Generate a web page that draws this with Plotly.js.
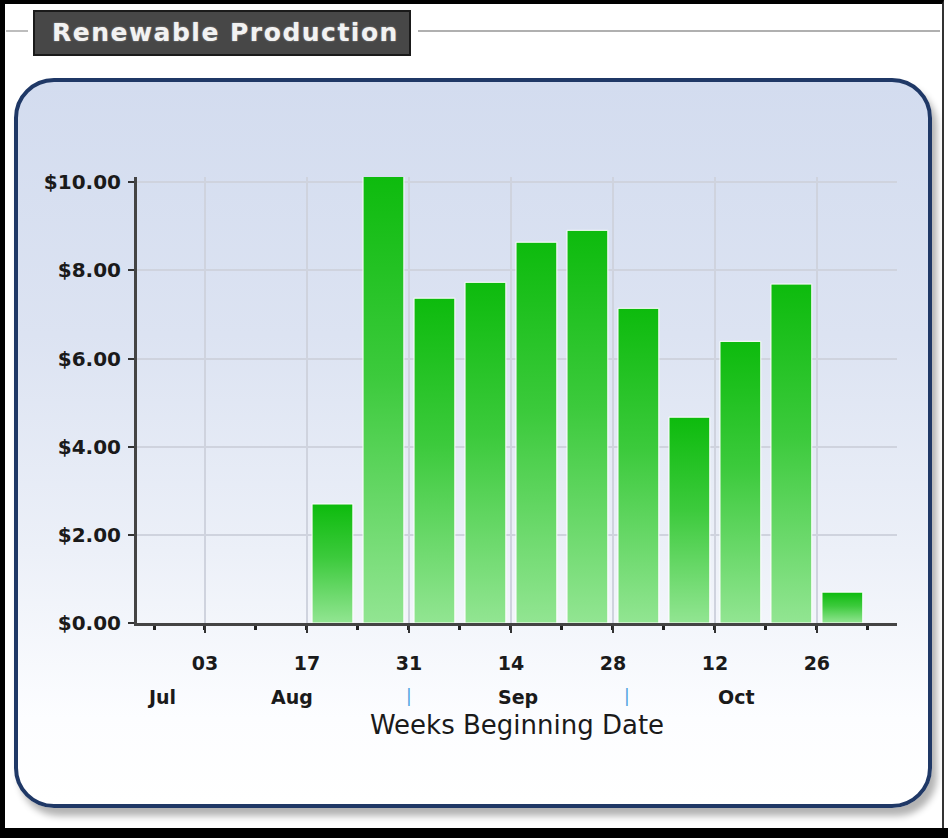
<!DOCTYPE html>
<html>
<head>
<meta charset="utf-8">
<script src="https://cdn.plot.ly/plotly-3.0.1.min.js"></script>
<style>
  html, body { margin: 0; padding: 0; }
  body { width: 948px; height: 838px; position: relative; overflow: hidden; background: #ffffff; }
  #frame { position: absolute; left: 0; top: 0; width: 944px; height: 838px; box-sizing: border-box;
           border-top: 4px solid #000; border-left: 5px solid #000; border-bottom: 10px solid #000; border-right: 2px solid #333; pointer-events: none; z-index: 5; }
  #frameR { position: absolute; left: 944px; top: 0; width: 4px; height: 838px; background: #fff; z-index: 5; }
  #frameB { position: absolute; left: 940px; top: 828px; width: 8px; height: 10px; background: #000; z-index: 6; }
  #titlebox { position: absolute; left: 33px; top: 10px; width: 378px; height: 46px; box-sizing: border-box;
              background: #474747; border: 2px solid #1a1a1a; color: #f2f2f2;
              font-family: "DejaVu Sans", sans-serif; font-weight: bold; font-size: 25px; letter-spacing: 1.5px;
              line-height: 42px; padding-left: 17px; white-space: nowrap;
              text-shadow: 0 0 2px #999; }
  #rule { position: absolute; left: 418px; top: 30px; width: 522px; height: 2px; background: #b0b0b0; }
  #rule2 { position: absolute; left: 6px; top: 30px; width: 22px; height: 2px; background: #bdbdbd; }
  #panel { position: absolute; left: 14px; top: 78px; width: 918px; height: 730px; box-sizing: border-box;
           border: 4px solid #1f3866; border-radius: 40px;
           background: linear-gradient(to bottom, #d3dcef 0%, #dce3f2 35%, #ecf0f8 65%, #fcfdff 88%, #ffffff 100%);
           box-shadow: 5px 8px 7px rgba(0,0,0,0.3); }
  #chart { position: absolute; left: 0; top: 0; width: 948px; height: 838px; }
</style>
</head>
<body>
<div id="panel"></div>
<div id="rule2"></div>
<div id="rule"></div>
<div id="titlebox">Renewable Production</div>
<div id="chart"></div>
<div id="frame"></div>
<div id="frameR"></div>
<div id="frameB"></div>
<script>
// ---- data ----
const weekStarts = ['2009-08-17','2009-08-24','2009-08-31','2009-09-07','2009-09-14','2009-09-21',
                    '2009-09-28','2009-10-05','2009-10-12','2009-10-19','2009-10-26'];
const production = [2.70, 10.20, 7.37, 7.73, 8.64, 8.91, 7.14, 4.67, 6.39, 7.69, 0.70];
const tickDates  = ['2009-08-03','2009-08-17','2009-08-31','2009-09-14','2009-09-28','2009-10-12','2009-10-26'];
const tickLabels = ['03','17','31','14','28','12','26'];
const yTickValues = [0, 2, 4, 6, 8, 10];
const monthLabels = ['Jul','Aug','Sep','Oct'];
const monthLabelDates = ['2009-07-28','2009-08-15','2009-09-15','2009-10-15'];
const monthDividerDates = ['2009-08-31','2009-09-30'];
const xTitle = 'Weeks Beginning Date';

const WEEK_MS = 7 * 24 * 3600 * 1000;
const FONT = '"DejaVu Sans", sans-serif';
const boldTick = { family: FONT, size: 19, color: '#1a1a1a', weight: 'bold' };

const trace = {
  type: 'bar',
  x: weekStarts,
  y: production,
  xperiod: WEEK_MS,
  xperiod0: weekStarts[0],
  xperiodalignment: 'middle',
  marker: { color: '#33c433', line: { color: '#ffffff', width: 1 } },
  hoverinfo: 'x+y'
};

const annotations = [];
monthLabels.forEach((m, i) => {
  annotations.push({ x: monthLabelDates[i], xref: 'x', y: 0, yref: 'paper', yshift: -74,
    text: m, showarrow: false, xanchor: 'center', yanchor: 'middle',
    font: { family: FONT, size: 19, color: '#1a1a1a', weight: 'bold' } });
});
monthDividerDates.forEach(d => {
  annotations.push({ x: d, xref: 'x', y: 0, yref: 'paper', yshift: -73,
    text: '|', showarrow: false, xanchor: 'center', yanchor: 'middle',
    font: { family: FONT, size: 17, color: '#4a9fe0' } });
});

const layout = {
  width: 948, height: 838,
  margin: { l: 137, r: 51, t: 177, b: 215 },
  paper_bgcolor: 'rgba(0,0,0,0)',
  plot_bgcolor: 'rgba(0,0,0,0)',
  showlegend: false,
  bargap: 0.2,
  xaxis: {
    type: 'date',
    range: ['2009-07-24 16:00', '2009-11-06'],
    tickmode: 'array', tickvals: tickDates, ticktext: tickLabels,
    ticks: 'outside', ticklen: 7, tickwidth: 2, tickcolor: '#333',
    ticklabelstandoff: 14,
    tickfont: boldTick,
    showgrid: true, gridcolor: '#cfd3de', gridwidth: 2,
    showline: true, linecolor: '#444', linewidth: 3,
    zeroline: false,
    minor: { tick0: '2009-07-27', dtick: WEEK_MS, ticks: 'outside', ticklen: 4, tickwidth: 3, tickcolor: '#222', showgrid: false },
    title: { text: xTitle, standoff: 44, font: { family: FONT, size: 26, color: '#1a1a1a' } },
    automargin: false
  },
  yaxis: {
    range: [0, 10.12],
    tickmode: 'array', tickvals: yTickValues,
    tickformat: '$.2f',
    ticks: 'outside', ticklen: 6, tickwidth: 2, tickcolor: '#333',
    ticklabelstandoff: 3,
    tickfont: { family: FONT, size: 20, color: '#1a1a1a', weight: 'bold' },
    showgrid: true, gridcolor: '#cfd3de', gridwidth: 2,
    showline: true, linecolor: '#444', linewidth: 3,
    zeroline: false,
    automargin: false
  },
  annotations: annotations
};

Plotly.newPlot('chart', [trace], layout, { displayModeBar: false, staticPlot: true }).then(gd => {
  // vertical green gradient on the bars (darker top, lighter bottom)
  const svg = gd.querySelector('svg.main-svg');
  const ns = 'http://www.w3.org/2000/svg';
  let defs = svg.querySelector('defs');
  if (!defs) { defs = document.createElementNS(ns, 'defs'); svg.insertBefore(defs, svg.firstChild); }
  const grad = document.createElementNS(ns, 'linearGradient');
  grad.setAttribute('id', 'barGrad');
  grad.setAttribute('x1', '0'); grad.setAttribute('y1', '0');
  grad.setAttribute('x2', '0'); grad.setAttribute('y2', '1');
  [['0%', '#0dbb0d'], ['45%', '#3cca3c'], ['100%', '#92e592']].forEach(([o, c]) => {
    const s = document.createElementNS(ns, 'stop');
    s.setAttribute('offset', o); s.setAttribute('stop-color', c);
    grad.appendChild(s);
  });
  defs.appendChild(grad);
  gd.querySelectorAll('.trace.bars .point path').forEach(p => { p.style.fill = 'url(#barGrad)'; });
});
</script>
</body>
</html>
